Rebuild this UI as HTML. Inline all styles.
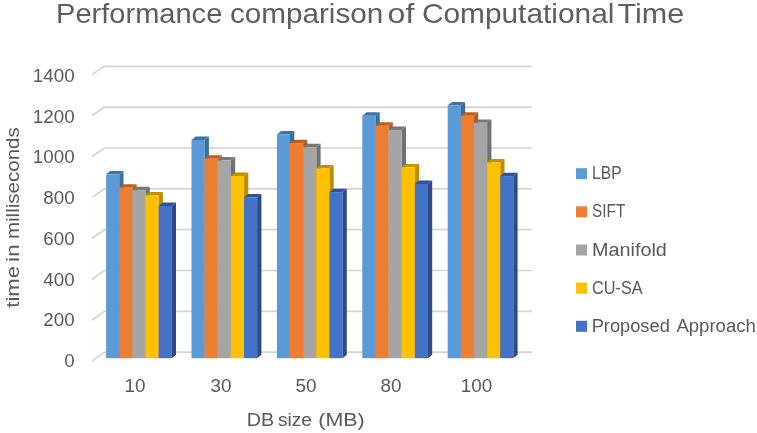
<!DOCTYPE html>
<html><head><meta charset="utf-8"><title>Performance comparison of Computational Time</title>
<style>html,body{margin:0;padding:0;background:#fff}body{width:757px;height:433px;overflow:hidden}</style>
</head><body>
<svg width="757" height="433" viewBox="0 0 757 433" style="display:block">
<rect width="757" height="433" fill="#fff"/>
<polyline points="92.0,74.6 104.4,66.4 531.8,66.4" fill="none" stroke="#D4D4D4" stroke-width="1.7"/>
<polyline points="92.0,115.5 104.4,107.2 531.8,107.2" fill="none" stroke="#D4D4D4" stroke-width="1.7"/>
<polyline points="92.0,156.5 104.4,148.0 531.8,148.0" fill="none" stroke="#D4D4D4" stroke-width="1.7"/>
<polyline points="92.0,197.4 104.4,188.9 531.8,188.9" fill="none" stroke="#D4D4D4" stroke-width="1.7"/>
<polyline points="92.0,238.3 104.4,229.7 531.8,229.7" fill="none" stroke="#D4D4D4" stroke-width="1.7"/>
<polyline points="92.0,279.2 104.4,270.5 531.8,270.5" fill="none" stroke="#D4D4D4" stroke-width="1.7"/>
<polyline points="92.0,320.2 104.4,311.3 531.8,311.3" fill="none" stroke="#D4D4D4" stroke-width="1.7"/>
<polyline points="92.0,361.1 104.4,352.1 531.8,352.1" fill="none" stroke="#D4D4D4" stroke-width="1.7"/>
<polygon points="119.2,174.3 123.5,170.9 123.5,354.8 119.2,358.2" fill="#3B6E9E"/>
<polygon points="106.1,174.3 119.2,174.3 123.5,170.9 110.4,170.9" fill="#3E73A6"/>
<rect x="106.1" y="174.3" width="13.27" height="183.9" fill="#5B9BD5"/>
<polygon points="132.3,187.7 136.6,184.3 136.6,354.8 132.3,358.2" fill="#B55A1B"/>
<polygon points="119.2,187.7 132.3,187.7 136.6,184.3 123.5,184.3" fill="#BE601D"/>
<rect x="119.2" y="187.7" width="13.27" height="170.5" fill="#ED7D31"/>
<polygon points="145.5,190.1 149.8,186.7 149.8,354.8 145.5,358.2" fill="#717171"/>
<polygon points="132.3,190.1 145.5,190.1 149.8,186.7 136.6,186.7" fill="#787878"/>
<rect x="132.3" y="190.1" width="13.27" height="168.1" fill="#A5A5A5"/>
<polygon points="158.6,195.4 162.9,192.0 162.9,354.8 158.6,358.2" fill="#BA8C00"/>
<polygon points="145.5,195.4 158.6,195.4 162.9,192.0 149.8,192.0" fill="#C29200"/>
<rect x="145.5" y="195.4" width="13.27" height="162.8" fill="#FFC000"/>
<polygon points="171.7,206.0 176.0,202.6 176.0,354.8 171.7,358.2" fill="#2C4B85"/>
<polygon points="158.6,206.0 171.7,206.0 176.0,202.6 162.9,202.6" fill="#30529A"/>
<rect x="158.6" y="206.0" width="13.27" height="152.2" fill="#4472C4"/>
<polygon points="204.6,139.9 208.9,136.5 208.9,354.8 204.6,358.2" fill="#3B6E9E"/>
<polygon points="191.5,139.9 204.6,139.9 208.9,136.5 195.8,136.5" fill="#3E73A6"/>
<rect x="191.5" y="139.9" width="13.27" height="218.3" fill="#5B9BD5"/>
<polygon points="217.7,158.7 222.0,155.3 222.0,354.8 217.7,358.2" fill="#B55A1B"/>
<polygon points="204.6,158.7 217.7,158.7 222.0,155.3 208.9,155.3" fill="#BE601D"/>
<rect x="204.6" y="158.7" width="13.27" height="199.5" fill="#ED7D31"/>
<polygon points="230.9,160.3 235.2,156.9 235.2,354.8 230.9,358.2" fill="#717171"/>
<polygon points="217.7,160.3 230.9,160.3 235.2,156.9 222.0,156.9" fill="#787878"/>
<rect x="217.7" y="160.3" width="13.27" height="197.9" fill="#A5A5A5"/>
<polygon points="244.0,176.0 248.3,172.6 248.3,354.8 244.0,358.2" fill="#BA8C00"/>
<polygon points="230.9,176.0 244.0,176.0 248.3,172.6 235.2,172.6" fill="#C29200"/>
<rect x="230.9" y="176.0" width="13.27" height="182.2" fill="#FFC000"/>
<polygon points="257.1,197.3 261.4,193.9 261.4,354.8 257.1,358.2" fill="#2C4B85"/>
<polygon points="244.0,197.3 257.1,197.3 261.4,193.9 248.3,193.9" fill="#30529A"/>
<rect x="244.0" y="197.3" width="13.27" height="160.9" fill="#4472C4"/>
<polygon points="290.0,134.4 294.3,131.0 294.3,354.8 290.0,358.2" fill="#3B6E9E"/>
<polygon points="276.9,134.4 290.0,134.4 294.3,131.0 281.2,131.0" fill="#3E73A6"/>
<rect x="276.9" y="134.4" width="13.27" height="223.8" fill="#5B9BD5"/>
<polygon points="303.1,143.1 307.4,139.7 307.4,354.8 303.1,358.2" fill="#B55A1B"/>
<polygon points="290.0,143.1 303.1,143.1 307.4,139.7 294.3,139.7" fill="#BE601D"/>
<rect x="290.0" y="143.1" width="13.27" height="215.1" fill="#ED7D31"/>
<polygon points="316.3,147.2 320.6,143.8 320.6,354.8 316.3,358.2" fill="#717171"/>
<polygon points="303.1,147.2 316.3,147.2 320.6,143.8 307.4,143.8" fill="#787878"/>
<rect x="303.1" y="147.2" width="13.27" height="211.0" fill="#A5A5A5"/>
<polygon points="329.4,168.5 333.7,165.1 333.7,354.8 329.4,358.2" fill="#BA8C00"/>
<polygon points="316.3,168.5 329.4,168.5 333.7,165.1 320.6,165.1" fill="#C29200"/>
<rect x="316.3" y="168.5" width="13.27" height="189.7" fill="#FFC000"/>
<polygon points="342.5,192.1 346.8,188.7 346.8,354.8 342.5,358.2" fill="#2C4B85"/>
<polygon points="329.4,192.1 342.5,192.1 346.8,188.7 333.7,188.7" fill="#30529A"/>
<rect x="329.4" y="192.1" width="13.27" height="166.1" fill="#4472C4"/>
<polygon points="375.4,115.7 379.7,112.3 379.7,354.8 375.4,358.2" fill="#3B6E9E"/>
<polygon points="362.3,115.7 375.4,115.7 379.7,112.3 366.6,112.3" fill="#3E73A6"/>
<rect x="362.3" y="115.7" width="13.27" height="242.5" fill="#5B9BD5"/>
<polygon points="388.5,125.7 392.8,122.3 392.8,354.8 388.5,358.2" fill="#B55A1B"/>
<polygon points="375.4,125.7 388.5,125.7 392.8,122.3 379.7,122.3" fill="#BE601D"/>
<rect x="375.4" y="125.7" width="13.27" height="232.5" fill="#ED7D31"/>
<polygon points="401.7,129.9 406.0,126.5 406.0,354.8 401.7,358.2" fill="#717171"/>
<polygon points="388.5,129.9 401.7,129.9 406.0,126.5 392.8,126.5" fill="#787878"/>
<rect x="388.5" y="129.9" width="13.27" height="228.3" fill="#A5A5A5"/>
<polygon points="414.8,167.3 419.1,163.9 419.1,354.8 414.8,358.2" fill="#BA8C00"/>
<polygon points="401.7,167.3 414.8,167.3 419.1,163.9 406.0,163.9" fill="#C29200"/>
<rect x="401.7" y="167.3" width="13.27" height="190.9" fill="#FFC000"/>
<polygon points="427.9,183.9 432.2,180.5 432.2,354.8 427.9,358.2" fill="#2C4B85"/>
<polygon points="414.8,183.9 427.9,183.9 432.2,180.5 419.1,180.5" fill="#30529A"/>
<rect x="414.8" y="183.9" width="13.27" height="174.3" fill="#4472C4"/>
<polygon points="460.8,105.3 465.1,101.9 465.1,354.8 460.8,358.2" fill="#3B6E9E"/>
<polygon points="447.7,105.3 460.8,105.3 465.1,101.9 452.0,101.9" fill="#3E73A6"/>
<rect x="447.7" y="105.3" width="13.27" height="252.9" fill="#5B9BD5"/>
<polygon points="473.9,115.7 478.2,112.3 478.2,354.8 473.9,358.2" fill="#B55A1B"/>
<polygon points="460.8,115.7 473.9,115.7 478.2,112.3 465.1,112.3" fill="#BE601D"/>
<rect x="460.8" y="115.7" width="13.27" height="242.5" fill="#ED7D31"/>
<polygon points="487.1,122.8 491.4,119.4 491.4,354.8 487.1,358.2" fill="#717171"/>
<polygon points="473.9,122.8 487.1,122.8 491.4,119.4 478.2,119.4" fill="#787878"/>
<rect x="473.9" y="122.8" width="13.27" height="235.4" fill="#A5A5A5"/>
<polygon points="500.2,162.5 504.5,159.1 504.5,354.8 500.2,358.2" fill="#BA8C00"/>
<polygon points="487.1,162.5 500.2,162.5 504.5,159.1 491.4,159.1" fill="#C29200"/>
<rect x="487.1" y="162.5" width="13.27" height="195.7" fill="#FFC000"/>
<polygon points="513.3,176.1 517.6,172.7 517.6,354.8 513.3,358.2" fill="#2C4B85"/>
<polygon points="500.2,176.1 513.3,176.1 517.6,172.7 504.5,172.7" fill="#30529A"/>
<rect x="500.2" y="176.1" width="13.27" height="182.1" fill="#4472C4"/>
<text y="22.5" font-family="Liberation Sans, sans-serif" font-size="27.5" fill="#5e5e5e"><tspan x="56.10" textLength="166.20" lengthAdjust="spacingAndGlyphs">Performance</tspan> <tspan x="229.90" textLength="153.40" lengthAdjust="spacingAndGlyphs">comparison</tspan> <tspan x="387.60" textLength="26.70" lengthAdjust="spacingAndGlyphs">of</tspan> <tspan x="421.90" textLength="192.50" lengthAdjust="spacingAndGlyphs">Computational</tspan> <tspan x="617.50" textLength="66.70" lengthAdjust="spacingAndGlyphs">Time</tspan></text>
<text x="74.6" y="81.7" font-family="Liberation Sans, sans-serif" font-size="17.6" fill="#595959" text-anchor="end" textLength="41.8" lengthAdjust="spacingAndGlyphs" >1400</text>
<text x="74.6" y="122.5" font-family="Liberation Sans, sans-serif" font-size="17.6" fill="#595959" text-anchor="end" textLength="41.8" lengthAdjust="spacingAndGlyphs" >1200</text>
<text x="74.6" y="163.3" font-family="Liberation Sans, sans-serif" font-size="17.6" fill="#595959" text-anchor="end" textLength="41.8" lengthAdjust="spacingAndGlyphs" >1000</text>
<text x="74.6" y="204.0" font-family="Liberation Sans, sans-serif" font-size="17.6" fill="#595959" text-anchor="end" textLength="31.3" lengthAdjust="spacingAndGlyphs" >800</text>
<text x="74.6" y="244.8" font-family="Liberation Sans, sans-serif" font-size="17.6" fill="#595959" text-anchor="end" textLength="31.3" lengthAdjust="spacingAndGlyphs" >600</text>
<text x="74.6" y="285.6" font-family="Liberation Sans, sans-serif" font-size="17.6" fill="#595959" text-anchor="end" textLength="31.3" lengthAdjust="spacingAndGlyphs" >400</text>
<text x="74.6" y="326.4" font-family="Liberation Sans, sans-serif" font-size="17.6" fill="#595959" text-anchor="end" textLength="31.3" lengthAdjust="spacingAndGlyphs" >200</text>
<text x="74.6" y="367.2" font-family="Liberation Sans, sans-serif" font-size="17.6" fill="#595959" text-anchor="end" textLength="10.4" lengthAdjust="spacingAndGlyphs" >0</text>
<text x="135.1" y="391.9" font-family="Liberation Sans, sans-serif" font-size="17.6" fill="#595959" text-anchor="middle" textLength="21.0" lengthAdjust="spacingAndGlyphs" >10</text>
<text x="221.1" y="391.9" font-family="Liberation Sans, sans-serif" font-size="17.6" fill="#595959" text-anchor="middle" textLength="21.0" lengthAdjust="spacingAndGlyphs" >30</text>
<text x="306" y="391.9" font-family="Liberation Sans, sans-serif" font-size="17.6" fill="#595959" text-anchor="middle" textLength="21.0" lengthAdjust="spacingAndGlyphs" >50</text>
<text x="391" y="391.9" font-family="Liberation Sans, sans-serif" font-size="17.6" fill="#595959" text-anchor="middle" textLength="21.0" lengthAdjust="spacingAndGlyphs" >80</text>
<text x="476.6" y="391.9" font-family="Liberation Sans, sans-serif" font-size="17.6" fill="#595959" text-anchor="middle" textLength="31.5" lengthAdjust="spacingAndGlyphs" >100</text>
<text y="426.4" font-family="Liberation Sans, sans-serif" font-size="17.6" fill="#595959"><tspan x="246.70" textLength="27.40" lengthAdjust="spacingAndGlyphs">DB</tspan> <tspan x="278.00" textLength="34.00" lengthAdjust="spacingAndGlyphs">size</tspan> <tspan x="318.30" textLength="46.40" lengthAdjust="spacingAndGlyphs">(MB)</tspan></text>
<g transform="translate(18.6,307.1) rotate(-90)"><text y="0" font-family="Liberation Sans, sans-serif" font-size="18.4" fill="#595959"><tspan x="-0.60" textLength="41.70" lengthAdjust="spacingAndGlyphs">time</tspan> <tspan x="45.10" textLength="18.00" lengthAdjust="spacingAndGlyphs">in</tspan> <tspan x="68.00" textLength="111.90" lengthAdjust="spacingAndGlyphs">milliseconds</tspan></text></g>
<rect x="576" y="168.2" width="11.1" height="11" fill="#5B9BD5"/>
<text x="592.1" y="179.3" font-family="Liberation Sans, sans-serif" font-size="17.6" fill="#595959" text-anchor="start" textLength="29.5" lengthAdjust="spacingAndGlyphs" >LBP</text>
<rect x="576" y="206.3" width="11.1" height="11" fill="#ED7D31"/>
<text x="592.1" y="217.4" font-family="Liberation Sans, sans-serif" font-size="17.6" fill="#595959" text-anchor="start" textLength="33.2" lengthAdjust="spacingAndGlyphs" >SIFT</text>
<rect x="576" y="244.5" width="11.1" height="11" fill="#A5A5A5"/>
<text x="592.1" y="255.6" font-family="Liberation Sans, sans-serif" font-size="17.6" fill="#595959" text-anchor="start" textLength="74.8" lengthAdjust="spacingAndGlyphs" >Manifold</text>
<rect x="576" y="282.6" width="11.1" height="11" fill="#FFC000"/>
<text x="592.1" y="293.8" font-family="Liberation Sans, sans-serif" font-size="17.6" fill="#595959" text-anchor="start" textLength="50.6" lengthAdjust="spacingAndGlyphs" >CU-SA</text>
<rect x="576" y="320.8" width="11.1" height="11" fill="#4472C4"/>
<text y="331.9" font-family="Liberation Sans, sans-serif" font-size="17.6" fill="#595959"><tspan x="591.70" textLength="78.10" lengthAdjust="spacingAndGlyphs">Proposed</tspan> <tspan x="676.40" textLength="79.50" lengthAdjust="spacingAndGlyphs">Approach</tspan></text>
</svg>
</body></html>
